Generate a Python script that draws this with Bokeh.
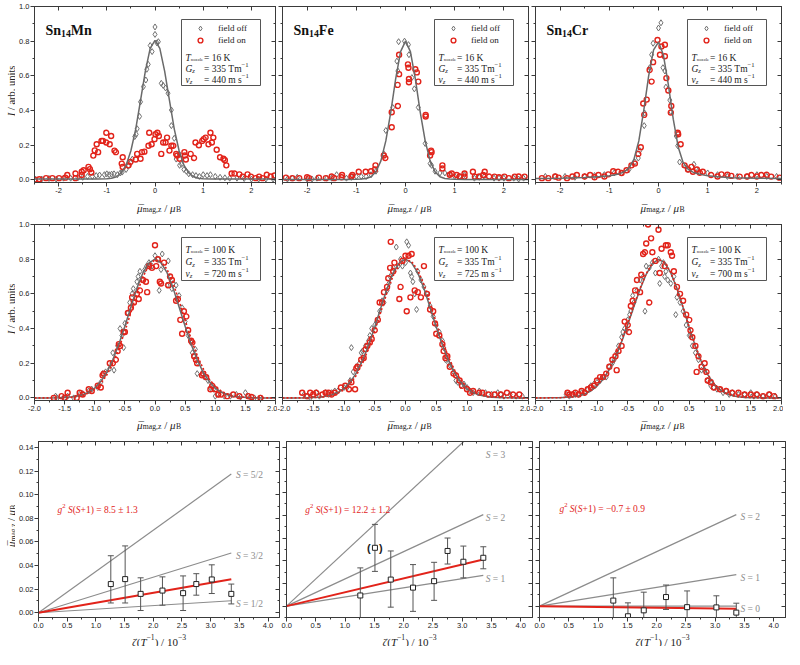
import math
from bokeh.plotting import figure
from bokeh.models import (Range1d, LinearAxis, SingleIntervalTicker, NumeralTickFormatter,
                          CustomJSTickFormatter, Label, BoxAnnotation, Legend, LegendItem)
from bokeh.layouts import column, row
from bokeh.embed import file_html
from bokeh.resources import INLINE
from bokeh.core.properties import value

# ======================= DATA =======================
compounds = ["Mn", "Fe", "Cr"]
t_nozzle = [16, 100]
g_z = 335
v_z = [[440, 440, 440], [720, 725, 700]]

# ---- top row: T_nozzle = 16 K  (x = mu_mag,z / mu_B, y = I) ----
mn16_off = [(-2.48,0.005),(-2.35,0.005),(-2.2,0.008),(-2.05,0.005),(-1.9,0.01),(-1.75,0.01),(-1.6,0.012),
            (-1.5,0.015),(-1.4,0.02),(-1.3,0.02),(-1.22,0.025),(-1.15,0.028),(-1.05,0.03),(-1.0,0.035),
            (-0.95,0.03),(-0.9,0.033),(-0.85,0.035),(-0.78,0.03),(-0.72,0.04),(-0.68,0.045),(-0.6,0.06),
            (-0.55,0.08),(-0.5,0.10),(-0.47,0.12),(-0.42,0.25),(-0.39,0.263),(-0.37,0.295),(-0.32,0.366),
            (-0.30,0.45),(-0.24,0.538),(-0.19,0.576),(-0.17,0.638),(-0.14,0.666),(-0.10,0.775),(-0.06,0.74),
            (0.0,0.882),(0.0,0.839),(0.04,0.79),(0.07,0.797),(0.13,0.557),(0.17,0.545),(0.22,0.53),
            (0.27,0.50),(0.34,0.403),(0.34,0.313),(0.40,0.24),(0.44,0.12),(0.50,0.15),(0.51,0.084),
            (0.55,0.09),(0.60,0.06),(0.65,0.05),(0.70,0.035),(0.78,0.03),(0.85,0.025),(0.92,0.02),
            (1.0,0.03),(1.08,0.025),(1.15,0.03),(1.25,0.02),(1.35,0.015),(1.45,0.012),(1.55,0.01),
            (1.7,0.01),(1.85,0.008),(2.0,0.005),(2.15,0.005),(2.3,0.005),(2.45,0.005)]
mn16_on = [(-2.5,0.0),(-2.4,0.004),(-2.26,0.01),(-2.13,0.01),(-1.99,0.01),(-1.86,0.013),(-1.82,0.028),
           (-1.65,0.037),(-1.65,0.01),(-1.52,0.028),(-1.52,0.047),(-1.48,0.056),(-1.38,0.075),(-1.35,0.062),
           (-1.32,0.043),(-1.28,0.14),(-1.25,0.17),(-1.21,0.206),(-1.18,0.16),(-1.11,0.225),(-1.08,0.225),
           (-1.01,0.272),(-1.01,0.216),(-0.94,0.206),(-0.91,0.253),(-0.84,0.169),(-0.81,0.16),(-0.69,0.094),
           (-0.67,0.131),(-0.67,0.075),(-0.55,0.084),(-0.51,0.103),(-0.40,0.118),(-0.37,0.15),(-0.30,0.122),
           (-0.27,0.16),(-0.22,0.163),(-0.135,0.197),(-0.12,0.272),(-0.07,0.206),(-0.01,0.235),(0.01,0.263),
           (0.05,0.272),(0.08,0.253),(0.13,0.15),(0.17,0.216),(0.22,0.216),(0.25,0.244),(0.30,0.169),
           (0.34,0.197),(0.38,0.197),(0.44,0.15),(0.46,0.141),(0.51,0.122),(0.61,0.16),(0.62,0.141),
           (0.64,0.118),(0.74,0.15),(0.81,0.126),(0.84,0.216),(0.91,0.20),(0.98,0.225),(1.01,0.235),
           (1.05,0.244),(1.11,0.206),(1.15,0.272),(1.18,0.216),(1.21,0.244),(1.28,0.174),(1.35,0.131),
           (1.42,0.122),(1.45,0.113),(1.48,0.084),(1.59,0.037),(1.65,0.037),(1.75,0.032),(1.82,0.019),
           (1.92,0.032),(1.99,0.019),(2.09,0.01),(2.16,0.019),(2.23,0.01),(2.32,0.03),(2.4,0.02),(2.48,0.025)]
fe16_off = [(-2.4,0.005),(-2.3,0.01),(-2.2,0.015),(-2.0,0.005),(-1.9,0.005),(-1.8,0.01),(-1.6,0.01),
            (-1.5,0.01),(-1.4,0.03),(-1.2,0.01),(-1.1,0.015),(-1.0,0.02),(-0.9,0.02),(-0.8,0.02),(-0.7,0.03),
            (-0.6,0.05),(-0.44,0.15),(-0.40,0.285),(-0.26,0.418),(-0.155,0.628),(-0.175,0.685),(-0.14,0.797),
            (-0.02,0.80),(0.06,0.78),(0.07,0.722),(0.13,0.59),(0.18,0.525),(0.26,0.418),(0.40,0.21),
            (0.50,0.094),(0.53,0.084),(0.6,0.05),(0.7,0.04),(0.8,0.04),(0.9,0.03),(1.0,0.02),(1.1,0.02),
            (1.2,0.03),(1.4,0.01),(1.5,0.015),(1.6,0.02),(1.8,0.01),(1.9,0.01),(2.0,0.01),(2.2,0.01),
            (2.3,0.005),(2.4,0.01)]
fe16_on = [(-2.43,0.013),(-2.3,0.01),(-2.16,0.01),(-2.0,0.015),(-1.96,0.01),(-1.76,0.013),(-1.62,0.01),
           (-1.5,0.02),(-1.45,0.01),(-1.3,0.015),(-1.29,0.028),(-1.1,0.02),(-1.08,0.028),(-0.95,0.047),
           (-0.81,0.047),(-0.7,0.05),(-0.62,0.06),(-0.61,0.084),(-0.44,0.141),(-0.41,0.126),(-0.28,0.304),
           (-0.28,0.39),(-0.155,0.426),(-0.16,0.548),(-0.13,0.61),(-0.13,0.722),(0.05,0.666),(0.06,0.647),
           (0.07,0.582),(0.07,0.563),(0.20,0.638),(0.23,0.62),(0.26,0.567),(0.41,0.375),(0.41,0.366),
           (0.52,0.169),(0.53,0.16),(0.50,0.141),(0.75,0.084),(0.75,0.066),(0.9,0.03),(0.94,0.037),
           (1.04,0.028),(1.1,0.02),(1.2,0.037),(1.2,0.019),(1.37,0.047),(1.41,0.019),(1.5,0.02),
           (1.61,0.047),(1.58,0.028),(1.7,0.02),(1.81,0.019),(1.9,0.015),(2.01,0.019),(2.1,0.01),
           (2.22,0.019),(2.3,0.02),(2.42,0.019)]
cr16_off = [(-2.3,0.02),(-2.1,0.02),(-1.9,0.02),(-1.7,0.015),(-1.5,0.02),(-1.3,0.025),(-1.1,0.03),
            (-0.9,0.04),(-0.75,0.04),(-0.6,0.06),(-0.48,0.103),(-0.41,0.126),(-0.38,0.169),(-0.29,0.313),
            (-0.28,0.385),(-0.18,0.647),(-0.14,0.722),(-0.11,0.788),(0.0,0.876),(0.05,0.906),(0.09,0.647),
            (0.13,0.628),(0.15,0.535),(0.23,0.46),(0.25,0.394),(0.36,0.253),(0.39,0.197),(0.43,0.103),
            (0.55,0.08),(0.6,0.06),(0.72,0.09),(0.8,0.05),(1.0,0.04),(1.2,0.03),(1.4,0.02),(1.6,0.02),
            (1.8,0.02),(2.0,0.03),(2.2,0.02),(2.4,0.02)]
cr16_on = [(-2.37,0.01),(-2.24,0.01),(-2.1,0.02),(-2.03,0.013),(-1.86,0.01),(-1.75,0.02),(-1.66,0.028),
           (-1.5,0.02),(-1.39,0.028),(-1.3,0.015),(-1.22,0.028),(-1.1,0.02),(-1.02,0.032),(-0.92,0.05),
           (-0.82,0.047),(-0.75,0.04),(-0.65,0.056),(-0.55,0.084),(-0.48,0.094),(-0.41,0.15),(-0.36,0.188),
           (-0.31,0.441),(-0.29,0.375),(-0.24,0.463),(-0.18,0.634),(-0.14,0.567),(-0.11,0.679),(-0.02,0.807),
           (0.03,0.722),(0.06,0.769),(0.13,0.779),(0.13,0.713),(0.16,0.587),(0.20,0.516),(0.25,0.388),
           (0.26,0.426),(0.39,0.272),(0.40,0.263),(0.45,0.206),(0.53,0.084),(0.6,0.06),(0.67,0.075),
           (0.70,0.047),(0.78,0.06),(0.84,0.041),(0.90,0.047),(1.07,0.028),(1.2,0.02),(1.28,0.032),
           (1.4,0.03),(1.48,0.023),(1.65,0.019),(1.8,0.02),(1.89,0.028),(2.0,0.02),(2.09,0.028),
           (2.2,0.03),(2.29,0.019),(2.46,0.013)]

top_curve_x = [-2.5,-2.0,-1.5,-1.2,-1.0,-0.9,-0.8,-0.7,-0.6,-0.5,-0.4,-0.3,-0.2,-0.1,0.0,
               0.1,0.2,0.3,0.4,0.5,0.6,0.7,0.8,0.9,1.0,1.2,1.5,2.0,2.5]
mn16_fit = [0.005,0.005,0.005,0.005,0.006,0.009,0.018,0.040,0.085,0.168,0.293,0.458,0.627,0.758,0.805,
            0.758,0.627,0.458,0.293,0.168,0.085,0.040,0.018,0.009,0.006,0.005,0.005,0.005,0.005]
fe16_fit = [0.003,0.003,0.003,0.003,0.004,0.005,0.008,0.018,0.047,0.110,0.225,0.390,0.583,0.740,0.800,
            0.740,0.583,0.390,0.225,0.110,0.047,0.018,0.008,0.005,0.004,0.003,0.003,0.003,0.003]
cr16_fit = [0.008,0.010,0.014,0.019,0.024,0.028,0.035,0.046,0.068,0.118,0.225,0.400,0.600,0.750,0.795,
            0.720,0.550,0.350,0.190,0.100,0.062,0.045,0.035,0.029,0.024,0.018,0.013,0.010,0.008]

# ---- middle row: T_nozzle = 100 K ----
mn100_off = [(-1.65,0.01),(-1.62,0.0),(-1.5,0.0),(-1.45,0.01),(-1.35,0.0),(-1.25,0.02),(-1.2,0.025),
             (-1.1,0.04),(-1.05,0.05),(-0.95,0.06),(-0.9,0.09),(-0.87,0.14),(-0.82,0.15),(-0.75,0.17),
             (-0.7,0.26),(-0.68,0.16),(-0.62,0.3),(-0.58,0.4),(-0.55,0.36),(-0.52,0.29),(-0.5,0.43),
             (-0.45,0.49),(-0.42,0.55),(-0.38,0.6),(-0.36,0.63),(-0.3,0.67),(-0.28,0.7),(-0.25,0.73),
             (-0.2,0.68),(-0.17,0.74),(-0.14,0.76),(-0.1,0.78),(-0.05,0.76),(0.0,0.82),(0.05,0.8),
             (0.07,0.62),(0.1,0.74),(0.12,0.83),(0.2,0.65),(0.22,0.79),(0.28,0.63),(0.3,0.66),(0.35,0.65),
             (0.4,0.59),(0.45,0.52),(0.5,0.44),(0.55,0.36),(0.6,0.32),(0.62,0.26),(0.65,0.24),(0.67,0.28),
             (0.7,0.14),(0.72,0.2),(0.78,0.14),(0.82,0.12),(0.88,0.1),(0.92,0.06),(0.97,0.05),(1.0,0.01),
             (1.05,0.02),(1.15,0.01),(1.25,0.01),(1.35,0.02),(1.42,0.005),(1.5,0.03),(1.55,0.01),
             (1.65,0.0),(1.75,0.0)]
mn100_on = [(-1.68,0.0),(-1.55,0.01),(-1.5,0.0),(-1.45,0.03),(-1.3,0.0),(-1.25,0.03),(-1.2,0.02),
            (-1.1,0.05),(-1.05,0.04),(-0.95,0.07),(-0.9,0.06),(-0.87,0.13),(-0.85,0.14),(-0.75,0.2),
            (-0.7,0.2),(-0.65,0.22),(-0.62,0.27),(-0.6,0.31),(-0.58,0.3),(-0.52,0.38),(-0.5,0.38),
            (-0.45,0.49),(-0.4,0.52),(-0.38,0.58),(-0.35,0.55),(-0.3,0.6),(-0.27,0.57),(-0.25,0.62),
            (-0.2,0.68),(-0.15,0.67),(-0.13,0.61),(-0.1,0.76),(-0.05,0.75),(0.0,0.88),(0.02,0.76),
            (0.05,0.8),(0.08,0.67),(0.1,0.66),(0.15,0.78),(0.22,0.65),(0.25,0.7),(0.28,0.68),(0.35,0.56),
            (0.38,0.57),(0.42,0.45),(0.45,0.37),(0.48,0.5),(0.52,0.47),(0.55,0.39),(0.6,0.33),(0.62,0.32),
            (0.65,0.24),(0.68,0.22),(0.7,0.2),(0.78,0.13),(0.8,0.14),(0.85,0.12),(0.92,0.05),(0.95,0.07),
            (1.0,0.05),(1.05,0.02),(1.1,0.02),(1.2,0.01),(1.3,0.02),(1.4,0.01),(1.55,0.01),(1.6,0.005),
            (1.75,0.0)]
fe100_off = [(-1.65,0.02),(-1.6,0.01),(-1.55,0.0),(-1.45,0.03),(-1.4,0.01),(-1.3,0.03),(-1.25,0.02),
             (-1.2,0.03),(-1.15,0.04),(-1.1,0.04),(-1.0,0.06),(-0.95,0.06),(-0.9,0.1),(-0.88,0.29),
             (-0.85,0.15),(-0.8,0.18),(-0.75,0.2),(-0.72,0.26),(-0.7,0.27),(-0.65,0.3),(-0.6,0.33),
             (-0.58,0.36),(-0.55,0.4),(-0.5,0.42),(-0.47,0.44),(-0.42,0.5),(-0.38,0.56),(-0.35,0.55),
             (-0.3,0.62),(-0.27,0.66),(-0.25,0.7),(-0.2,0.75),(-0.15,0.87),(-0.12,0.76),(-0.08,0.8),
             (-0.05,0.76),(0.0,0.78),(0.02,0.9),(0.05,0.88),(0.08,0.72),(0.1,0.7),(0.12,0.67),(0.15,0.6),
             (0.18,0.51),(0.2,0.73),(0.25,0.68),(0.3,0.64),(0.35,0.6),(0.4,0.53),(0.45,0.47),(0.5,0.42),
             (0.55,0.38),(0.6,0.33),(0.62,0.29),(0.65,0.22),(0.7,0.2),(0.72,0.19),(0.78,0.15),(0.82,0.1),
             (0.85,0.09),(0.9,0.07),(0.95,0.08),(1.0,0.06),(1.05,0.04),(1.1,0.03),(1.2,0.04),(1.3,0.03),
             (1.4,0.02),(1.5,0.03),(1.55,0.02),(1.6,0.01),(1.7,0.02),(1.8,0.01),(1.9,0.01)]
fe100_on = [(-1.68,0.03),(-1.6,0.01),(-1.55,0.03),(-1.5,0.02),(-1.45,0.03),(-1.35,0.02),(-1.3,0.03),
            (-1.25,0.03),(-1.2,0.02),(-1.15,0.03),(-1.05,0.06),(-0.98,0.07),(-0.92,0.05),(-0.88,0.09),
            (-0.82,0.05),(-0.8,0.17),(-0.78,0.18),(-0.72,0.22),(-0.68,0.23),(-0.65,0.28),(-0.62,0.3),
            (-0.58,0.32),(-0.55,0.34),(-0.5,0.39),(-0.45,0.45),(-0.42,0.55),(-0.38,0.55),(-0.35,0.61),
            (-0.3,0.64),(-0.28,0.69),(-0.25,0.75),(-0.24,0.9),(-0.2,0.73),(-0.18,0.78),(-0.1,0.57),
            (-0.08,0.64),(-0.05,0.79),(0.0,0.82),(0.02,0.5),(0.05,0.82),(0.08,0.58),(0.1,0.83),(0.15,0.62),
            (0.2,0.61),(0.25,0.58),(0.3,0.76),(0.35,0.6),(0.4,0.51),(0.45,0.5),(0.48,0.43),(0.5,0.37),
            (0.55,0.36),(0.6,0.31),(0.62,0.27),(0.65,0.23),(0.68,0.24),(0.72,0.18),(0.78,0.14),(0.82,0.13),
            (0.88,0.1),(0.92,0.07),(1.0,0.05),(1.05,0.03),(1.1,0.04),(1.2,0.03),(1.25,0.03),(1.35,0.02),
            (1.45,0.02),(1.55,0.02),(1.65,0.03),(1.75,0.02),(1.85,0.02)]
cr100_off = [(-1.5,0.02),(-1.45,0.01),(-1.4,0.02),(-1.35,0.02),(-1.3,0.02),(-1.25,0.03),(-1.2,0.03),
             (-1.15,0.05),(-1.1,0.07),(-1.05,0.08),(-1.0,0.09),(-0.95,0.1),(-0.9,0.12),(-0.85,0.12),
             (-0.8,0.18),(-0.75,0.2),(-0.72,0.22),(-0.68,0.26),(-0.65,0.3),(-0.6,0.35),(-0.58,0.38),
             (-0.55,0.4),(-0.52,0.39),(-0.5,0.45),(-0.47,0.48),(-0.45,0.5),(-0.42,0.59),(-0.4,0.55),
             (-0.35,0.62),(-0.3,0.68),(-0.25,0.7),(-0.22,0.5),(-0.2,0.76),(-0.15,0.75),(-0.1,0.78),
             (-0.05,0.72),(0.0,0.8),(0.02,0.66),(0.05,0.76),(0.08,0.78),(0.1,0.7),(0.12,0.73),(0.15,0.68),
             (0.2,0.66),(0.25,0.7),(0.28,0.48),(0.3,0.58),(0.35,0.55),(0.4,0.5),(0.45,0.42),(0.5,0.36),
             (0.52,0.36),(0.55,0.3),(0.6,0.26),(0.65,0.22),(0.7,0.16),(0.75,0.16),(0.8,0.1),(0.85,0.07),
             (0.9,0.06),(0.95,0.05),(1.0,0.05),(1.05,0.03),(1.1,0.04),(1.15,0.02),(1.2,0.03),(1.3,0.02),
             (1.4,0.02),(1.5,0.03),(1.55,0.01),(1.6,0.02),(1.7,0.01),(1.8,0.02),(1.9,0.01)]
cr100_on = [(-1.48,0.03),(-1.45,0.02),(-1.4,0.02),(-1.35,0.03),(-1.3,0.02),(-1.25,0.04),(-1.2,0.03),
            (-1.15,0.05),(-1.1,0.06),(-1.05,0.07),(-1.0,0.1),(-0.95,0.12),(-0.9,0.12),(-0.85,0.14),
            (-0.8,0.18),(-0.75,0.22),(-0.7,0.24),(-0.68,0.16),(-0.65,0.27),(-0.6,0.3),(-0.55,0.44),
            (-0.5,0.42),(-0.48,0.38),(-0.45,0.53),(-0.42,0.56),(-0.38,0.62),(-0.35,0.68),(-0.3,0.61),
            (-0.28,0.71),(-0.25,0.83),(-0.22,0.84),(-0.2,0.89),(-0.17,1.0),(-0.15,0.55),(-0.12,0.92),
            (-0.1,0.84),(-0.05,0.79),(0.0,0.97),(0.02,0.72),(0.05,0.86),(0.1,0.76),(0.12,0.88),(0.15,0.88),
            (0.2,0.84),(0.22,0.82),(0.25,0.73),(0.3,0.64),(0.35,0.6),(0.4,0.56),(0.45,0.48),(0.5,0.45),
            (0.52,0.39),(0.55,0.35),(0.6,0.3),(0.62,0.15),(0.65,0.24),(0.7,0.18),(0.75,0.2),(0.78,0.15),
            (0.8,0.1),(0.85,0.09),(0.9,0.06),(1.0,0.05),(1.1,0.04),(1.2,0.03),(1.3,0.03),(1.4,0.02),
            (1.5,0.02),(1.6,0.02),(1.7,0.01),(1.8,0.02),(1.88,0.01)]

mid_curve_x = [-2.0,-1.8,-1.6,-1.4,-1.3,-1.2,-1.1,-1.0,-0.9,-0.8,-0.7,-0.6,-0.5,-0.4,-0.3,-0.2,-0.1,0.0,
               0.1,0.2,0.3,0.4,0.5,0.6,0.7,0.8,0.9,1.0,1.1,1.2,1.3,1.4,1.6,1.8,2.0]
mn100_fit_off = [0.0,0.0001,0.0009,0.0045,0.0093,0.018,0.033,0.057,0.094,0.147,0.220,0.309,0.413,0.524,
                 0.633,0.722,0.779,0.800,0.779,0.722,0.633,0.524,0.413,0.309,0.220,0.147,0.094,0.057,
                 0.033,0.018,0.0093,0.0045,0.0009,0.0001,0.0]
mn100_fit_on = [0.0,0.0001,0.0007,0.0035,0.0075,0.015,0.028,0.049,0.083,0.132,0.200,0.285,0.384,0.492,
                0.603,0.699,0.766,0.797,0.787,0.741,0.661,0.559,0.448,0.339,0.245,0.168,0.108,0.067,
                0.039,0.021,0.011,0.0056,0.0012,0.0002,0.0]
fe100_fit_off = [0.0,0.0001,0.0008,0.0042,0.0088,0.017,0.031,0.054,0.091,0.143,0.216,0.305,0.409,0.521,
                 0.631,0.721,0.779,0.800,0.779,0.721,0.631,0.521,0.409,0.305,0.216,0.143,0.091,0.054,
                 0.031,0.017,0.0088,0.0042,0.0008,0.0001,0.0]
fe100_fit_on = [0.0,0.0001,0.0006,0.0034,0.0072,0.014,0.027,0.047,0.081,0.130,0.199,0.285,0.387,0.497,
                0.609,0.705,0.770,0.798,0.786,0.736,0.653,0.547,0.434,0.327,0.235,0.159,0.103,0.063,
                0.036,0.020,0.010,0.0050,0.0010,0.0002,0.0]
cr100_fit_off = [0.0,0.0002,0.0012,0.006,0.012,0.023,0.040,0.068,0.108,0.163,0.234,0.323,0.423,0.527,
                 0.627,0.713,0.775,0.799,0.780,0.721,0.631,0.521,0.406,0.298,0.206,0.134,0.082,0.047,
                 0.025,0.013,0.006,0.0027,0.0004,0.0,0.0]
cr100_fit_on = [0.0,0.0002,0.0013,0.0065,0.013,0.025,0.043,0.072,0.112,0.168,0.240,0.330,0.430,0.533,
                0.632,0.716,0.777,0.800,0.781,0.722,0.632,0.522,0.407,0.300,0.208,0.136,0.084,0.049,
                0.026,0.014,0.0065,0.003,0.0005,0.0,0.0]

# ---- bottom row: mean magnetic moment vs zeta(1/T) ----
zeta_x = [1.26, 1.51, 1.78, 2.16, 2.52, 2.75, 3.02, 3.36]
mn_mu = [0.0243, 0.0285, 0.0160, 0.0188, 0.0166, 0.0243, 0.0282, 0.0160]
mn_lo = [0.0083, 0.0083, 0.0019, 0.0064, 0.0019, 0.0149, 0.0163, 0.0075]
mn_hi = [0.0483, 0.0566, 0.0296, 0.0304, 0.0312, 0.0331, 0.0406, 0.0243]
fe_mu = [0.0094, 0.0514, 0.0234, 0.0163, 0.0220, 0.0486, 0.0391, 0.0426]
fe_lo = [-0.0150, 0.0306, -0.0009, -0.0046, 0.0051, 0.0371, 0.0249, 0.0329]
fe_hi = [0.0337, 0.0720, 0.0486, 0.0366, 0.0386, 0.0600, 0.0529, 0.0523]
cr_x = [1.26, 1.51, 1.78, 2.16, 2.52, 3.02, 3.36]
cr_mu = [0.0049, -0.0089, -0.0037, 0.0080, -0.0009, -0.0011, -0.0057]
cr_lo = [-0.0150, -0.0200, -0.0200, -0.0029, -0.0150, -0.0150, -0.0150]
cr_hi = [0.0249, 0.0029, 0.0123, 0.0186, 0.0134, 0.0091, 0.0026]
line_end_x = 3.36
fit_end = [0.0284, 0.0411, -0.0023]
fit_text = ["8.5 ± 1.3", "12.2 ± 1.2", "−0.7 ± 0.9"]
fit_text_pos = [(0.33, 0.0903), (0.32, 0.0877), (0.34, 0.0886)]
s_names = [["5/2", "3/2", "1/2"], ["3", "2", "1"], ["2", "1", "0"]]
s_end = [[0.1174, 0.0506, 0.0102], [0.161, 0.0806, 0.0271], [0.0806, 0.0277, 0.0]]
s_label_x = [3.44, 3.40, 3.43]
s_label_y = [[0.1195, 0.0508, 0.0105], [0.1366, 0.081, 0.027], [0.082, 0.028, 0.0009]]

# ======================= STYLE / LAYOUT =======================
SERIF = "Liberation Serif"
SANS = "Liberation Sans"
AX = "#3a3a3a"
GRAY_PT = "#707070"
GRAY_LINE = "#6a6a6a"
RED = "#e2231a"
S_GRAY = "#8c8c8c"
TXT = "#222222"

YLAB_W = 15
W_FRAME = [241, 246, 246]
H_FRAME = 176
BORDER_L = [19, 5, 5]
BORDER_R = [2, 2, 2]
BORDER_T = 6
BORDER_B = 14
XLAB_H = [22, 21, 15]
XLAB_BASE = [11, 11, 5]

W_R = {' ': 250, '\u00a0': 250, '(': 333, ')': 333, '+': 564, ',': 250, '-': 333, '.': 250, '/': 278,
       '=': 564, '±': 564, '−': 564, 'A': 722, 'B': 667, 'C': 667, 'G': 722, 'I': 333, 'K': 722,
       'M': 889, 'S': 556, 'T': 611, 'a': 444, 'b': 500, 'c': 444, 'd': 500, 'e': 444, 'f': 333,
       'g': 500, 'i': 278, 'l': 278, 'm': 778, 'n': 500, 'o': 500, 'r': 333, 's': 389, 't': 278,
       'u': 500, 'v': 500, 'z': 444, 'μ': 540, 'ζ': 440}
W_I = {'S': 500, 'T': 556, 'G': 722, 'I': 333, 'v': 444, 'z': 389, 'g': 500}
W_B = {'S': 556, 'n': 556, 'M': 944}
KINDS = {'r': (1.0, 'normal', 0.0), 'i': (1.0, 'italic', 0.0), 'b': (1.0, 'bold', 0.0),
         'rs': (0.7, 'normal', -0.22), 'is': (0.7, 'italic', -0.22), 'bs': (0.7, 'bold', -0.22),
         'ts': (0.5, 'normal', -0.2), 'rp': (0.7, 'normal', 0.42), 'bar': (1.0, 'normal', 0.0)}


def seg_width(text, size, style):
    tot = 0.0
    for ch in text:
        w = W_R.get(ch, 500)
        if style == 'italic':
            w = W_I.get(ch, w)
        elif style == 'bold':
            w = W_B.get(ch, w)
        tot += w
    return tot * size / 1000.0


def rich_data(p, x, y, segs, size, color, align="left", angle=0.0, dy=0.0):
    parts = []
    for t, k in segs:
        f, style, sh = KINDS[k]
        sz = size * f
        if k == 'bar':
            parts.append(('\u00af', sz, style, 0.0, 0.0, True))
            continue
        t = t.replace(' ', '\u00a0')
        parts.append((t, sz, style, sh * size, seg_width(t, sz, style), False))
    total = sum(pp[4] for pp in parts)
    adv = -total / 2 if align == "center" else 0.0
    last = adv
    for t, sz, style, sh, w, is_bar in parts:
        pos = last + 1.6 if is_bar else adv
        if angle == 0.0:
            xo, yo = pos, sh + dy
        else:
            xo, yo = -sh, pos
        p.add_layout(Label(x=x, y=y, text=t, x_offset=xo, y_offset=yo, angle=angle,
                           text_font=SERIF, text_font_style=style, text_font_size=f"{sz:.2f}px",
                           text_color=color, text_align="left", text_baseline="alphabetic"))
        if not is_bar:
            last = adv
            adv += w


def px2x(spec, px):
    x0, x1 = spec['xr']
    return x0 + px * (x1 - x0) / spec['W']


def px2y(spec, py):
    y0, y1 = spec['yr']
    return y1 - py * (y1 - y0) / spec['H']


def rich(p, spec, px, py, segs, size, color, align="left", angle=0.0):
    rich_data(p, px2x(spec, px), px2y(spec, py), segs, size, color, align, angle)


def mk_axis(interval, fmt, labels, inward):
    ax = LinearAxis(ticker=SingleIntervalTicker(interval=interval, num_minor_ticks=2))
    ax.axis_line_color = AX
    ax.axis_line_width = 1
    ax.major_tick_line_color = AX
    ax.minor_tick_line_color = AX
    if inward:
        ax.major_tick_in, ax.major_tick_out, ax.minor_tick_in, ax.minor_tick_out = 4, 0, 2, 0
    else:
        ax.major_tick_in, ax.major_tick_out, ax.minor_tick_in, ax.minor_tick_out = 0, 4, 0, 2
    if labels:
        ax.formatter = NumeralTickFormatter(format=fmt)
        ax.major_label_text_font = SANS
        ax.major_label_text_font_size = "7.5px"
        ax.major_label_text_color = TXT
        ax.major_label_standoff = 1
    else:
        ax.formatter = CustomJSTickFormatter(code="return ''")
        ax.major_label_text_font_size = "0px"
        ax.major_label_standoff = 0
    return ax


def make_panel(col, xr, yr, xint, yint, xfmt, yfmt):
    W = W_FRAME[col]
    p = figure(frame_width=W, frame_height=H_FRAME, x_range=Range1d(*xr), y_range=Range1d(*yr),
               x_axis_type=None, y_axis_type=None, output_backend="svg", toolbar_location=None,
               min_border_left=BORDER_L[col], min_border_right=BORDER_R[col],
               min_border_top=BORDER_T, min_border_bottom=BORDER_B,
               background_fill_color="white", border_fill_color="white",
               outline_line_color=AX, outline_line_width=1)
    p.add_layout(mk_axis(xint, xfmt, True, False), "below")
    p.add_layout(mk_axis(yint, yfmt, col == 0, False), "left")
    p.add_layout(mk_axis(xint, None, False, True), "above")
    p.add_layout(mk_axis(yint, None, False, True), "right")
    return p, dict(xr=xr, yr=yr, W=W, H=H_FRAME)


def label_fig(w, h):
    return figure(width=w, height=h, x_range=Range1d(0, w), y_range=Range1d(0, h),
                  x_axis_type=None, y_axis_type=None, output_backend="svg", toolbar_location=None,
                  min_border=0, min_border_left=0, min_border_right=0, min_border_top=0,
                  min_border_bottom=0, outline_line_color=None,
                  background_fill_color="white", border_fill_color="white")


MU_LABEL = [("μ", 'i'), ("", 'bar'), ("mag,z", 'rs'), (" / ", 'r'), ("μ", 'i'), ("B", 'rs')]
I_LABEL = [("I", 'i'), (" / arb. units", 'r')]
ZETA_LABEL = [("ζ", 'i'), ("(", 'r'), ("T", 'i'), ("−1", 'rp'), (") / 10", 'r'), ("−3", 'rp')]


def add_box(p, spec, top_px, bot_px):
    W = spec['W']
    p.add_layout(BoxAnnotation(left=px2x(spec, W - 94), right=px2x(spec, W - 15),
                               top=px2y(spec, top_px), bottom=px2y(spec, bot_px),
                               fill_color="white", fill_alpha=1.0, line_color="#555555",
                               line_width=1, line_alpha=1.0))


def add_params(p, spec, rows_py, tn, vz):
    bx = spec['W'] - 94
    heads = [[("T", 'i'), ("nozzle", 'ts')], [("G", 'i'), ("z", 'is')], [("v", 'i'), ("z", 'is')]]
    tails = [[(f"= {tn} K", 'r')], [(f"= {g_z} Tm", 'r'), ("−1", 'rp')],
             [(f"= {vz} m s", 'r'), ("−1", 'rp')]]
    for py, a, b in zip(rows_py, heads, tails):
        rich(p, spec, bx + 4, py, a, 9.5, TXT)
        rich(p, spec, bx + 22.5, py, b, 9.5, TXT)


top_off = [mn16_off, fe16_off, cr16_off]
top_on = [mn16_on, fe16_on, cr16_on]
top_fit = [mn16_fit, fe16_fit, cr16_fit]
mid_off = [mn100_off, fe100_off, cr100_off]
mid_on = [mn100_on, fe100_on, cr100_on]
mid_fit_off = [mn100_fit_off, fe100_fit_off, cr100_fit_off]
mid_fit_on = [mn100_fit_on, fe100_fit_on, cr100_fit_on]
bot_x = [zeta_x, zeta_x, cr_x]
bot_mu = [mn_mu, fe_mu, cr_mu]
bot_lo = [mn_lo, fe_lo, cr_lo]
bot_hi = [mn_hi, fe_hi, cr_hi]
bot_yr = [(-0.004, 0.145), (-0.01, 0.145), (-0.01, 0.145)]

panels = [[], [], []]

# ---------- row 1 ----------
for c in range(3):
    p, spec = make_panel(c, (-2.5, 2.5), (-0.015, 1.0), 1, 0.2, "0", "0.0")
    r_off = p.scatter([q[0] for q in top_off[c]], [q[1] for q in top_off[c]], marker="diamond",
                      size=6, fill_color=None, line_color=GRAY_PT, line_width=1)
    r_on = p.scatter([q[0] for q in top_on[c]], [q[1] for q in top_on[c]], marker="circle",
                     size=5, fill_color=None, line_color=RED, line_width=1.4)
    p.line(top_curve_x, top_fit[c], line_color=GRAY_LINE, line_width=1.5)
    add_box(p, spec, 13, 79)
    leg = Legend(items=[LegendItem(label="field off", renderers=[r_off]),
                        LegendItem(label="field on", renderers=[r_on])],
                 location=(spec['W'] - 94 + 13, spec['H'] - 40), orientation="vertical",
                 padding=0, margin=0, spacing=0, glyph_width=12, glyph_height=12,
                 label_height=12, label_standoff=12, label_text_font=SERIF,
                 label_text_font_size="9px", label_text_color=TXT,
                 border_line_alpha=0, background_fill_alpha=0)
    p.add_layout(leg)
    add_params(p, spec, [51, 62, 73], t_nozzle[0], v_z[0][c])
    rich(p, spec, 11, 24, [("Sn", 'b'), ("14", 'bs'), (compounds[c], 'b')], 14, "#111111")
    panels[0].append(p)

# ---------- row 2 ----------
for c in range(3):
    p, spec = make_panel(c, (-2.0, 2.0), (-0.015, 1.0), 0.5, 0.2, "0.0", "0.0")
    p.scatter([q[0] for q in mid_off[c]], [q[1] for q in mid_off[c]], marker="diamond",
              size=6, fill_color=None, line_color=GRAY_PT, line_width=1)
    p.scatter([q[0] for q in mid_on[c]], [q[1] for q in mid_on[c]], marker="circle",
              size=5, fill_color=None, line_color=RED, line_width=1.4)
    p.line(mid_curve_x, mid_fit_off[c], line_color=GRAY_LINE, line_width=1.5)
    p.line(mid_curve_x, mid_fit_on[c], line_color=RED, line_width=1.6, line_dash="2 2")
    add_box(p, spec, 13, 56)
    add_params(p, spec, [25, 37.5, 49], t_nozzle[1], v_z[1][c])
    panels[1].append(p)

# ---------- row 3 ----------
for c in range(3):
    p, spec = make_panel(c, (0.0, 4.2), bot_yr[c], 0.5, 0.02, "0.0", "0.00")
    for k in range(3):
        p.line([0.0, line_end_x], [0.0, s_end[c][k]], line_color=S_GRAY, line_width=1.2)
        rich_data(p, s_label_x[c], s_label_y[c][k], [("S", 'i'), (" = " + s_names[c][k], 'r')],
                  9.5, S_GRAY, dy=-3.5)
    p.line([0.0, line_end_x], [0.0, fit_end[c]], line_color=RED, line_width=2)
    fx, fy = fit_text_pos[c]
    rich_data(p, fx, fy, [("g", 'i'), ("2", 'rp'), (" S", 'i'), ("(", 'r'), ("S", 'i'),
                          ("+1) = " + fit_text[c], 'r')], 9.5, RED, dy=-3.5)
    xs, mu, lo, hi = bot_x[c], bot_mu[c], bot_lo[c], bot_hi[c]
    p.segment(xs, lo, xs, hi, line_color="#555555", line_width=1)
    p.scatter(xs, lo, marker="dash", size=6, line_color="#555555", line_width=1)
    p.scatter(xs, hi, marker="dash", size=6, line_color="#555555", line_width=1)
    p.scatter(xs, mu, marker="square", size=5, fill_color="white", line_color="#222222",
              line_width=1)
    if c == 1:
        p.text([xs[1]], [mu[1]], text=["("], x_offset=-6, text_font=value(SANS),
               text_font_size="11px", text_font_style="bold", text_align="center",
               text_baseline="middle", text_color="#222222")
        p.text([xs[1]], [mu[1]], text=[")"], x_offset=6, text_font=value(SANS),
               text_font_size="11px", text_font_style="bold", text_align="center",
               text_baseline="middle", text_color="#222222")
    panels[2].append(p)

# ---------- axis-label strips ----------
fig_h = BORDER_T + H_FRAME + BORDER_B
col_w = [BORDER_L[c] + W_FRAME[c] + BORDER_R[c] for c in range(3)]
y_labels = [I_LABEL, I_LABEL, MU_LABEL]
x_labels = [MU_LABEL, MU_LABEL, ZETA_LABEL]

rows = []
for r in range(3):
    yl = label_fig(YLAB_W, fig_h)
    rich_data(yl, 11, BORDER_B + H_FRAME / 2, y_labels[r], 10.5, TXT, align="center",
              angle=math.pi / 2)
    rows.append(row(yl, *panels[r], spacing=0))
    strip = []
    for c in range(3):
        w = col_w[c] + (YLAB_W if c == 0 else 0)
        xl = label_fig(w, XLAB_H[r])
        cx = (YLAB_W if c == 0 else 0) + BORDER_L[c] + W_FRAME[c] / 2 + 4
        rich_data(xl, cx, XLAB_BASE[r], x_labels[r], 11, TXT, align="center")
        strip.append(xl)
    rows.append(row(*strip, spacing=0))

layout = column(*rows, spacing=0)
open("out.html", "w").write(file_html(layout, INLINE))
